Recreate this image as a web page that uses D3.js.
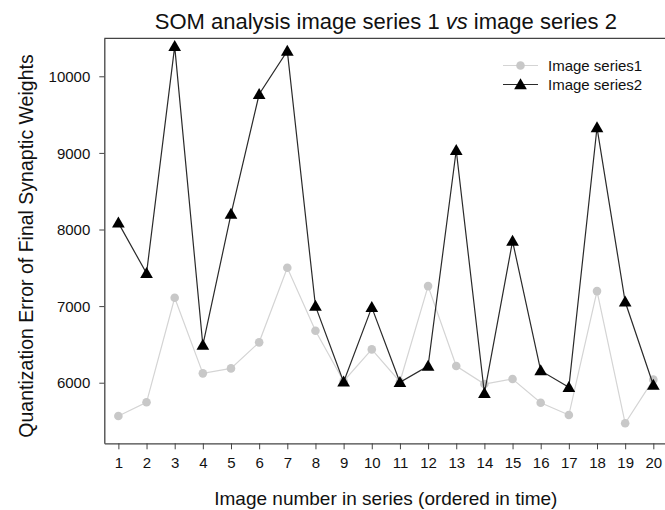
<!DOCTYPE html>
<html>
<head>
<meta charset="utf-8">
<script src="https://cdn.jsdelivr.net/npm/d3@7"></script>
<style>
  body { margin: 0; background: #fff; }
  text { font-family: "Liberation Sans", Arial, sans-serif; fill: #111; }
</style>
</head>
<body>
<div class="chart"></div>
<script>
const imageNumbers = d3.range(1, 21);
const series1 = [5566, 5744, 7109, 6122, 6187, 6527, 7500, 6679, 6020, 6435,
                 6013, 7261, 6218, 5983, 6048, 5739, 5578, 7196, 5470, 6040];
const series2 = [8087, 7427, 10391, 6490, 8200, 9765, 10330, 7000, 6010, 6983,
                 6005, 6218, 9035, 5862, 7848, 6157, 5940, 9331, 7057, 5970];
const yTicks = [6000, 7000, 8000, 9000, 10000];
const legendNames = ["Image series1", "Image series2"];

const width = 665, height = 510;
const margin = {top: 38.3, right: -2.4, bottom: 66.7, left: 104.3};

const svg = d3.select(".chart")
    .append("svg")
    .attr("width", width)
    .attr("height", height);

const x = d3.scaleLinear()
    .domain([0.5, 20.5])
    .range([margin.left, width - margin.right]);
const y = d3.scaleLinear()
    .domain([5209, 10496])
    .range([height - margin.bottom, margin.top]);

const axisColor = "#444";

// top line of the frame
svg.append("line")
    .attr("x1", margin.left).attr("x2", width)
    .attr("y1", margin.top).attr("y2", margin.top)
    .attr("stroke", axisColor).attr("stroke-width", 1.3);

// x axis
const xAxis = svg.append("g")
    .attr("transform", `translate(0,${height - margin.bottom})`)
    .call(d3.axisBottom(x).tickValues(imageNumbers).tickSize(6).tickPadding(8).tickSizeOuter(0));
// y axis
const yAxis = svg.append("g")
    .attr("transform", `translate(${margin.left},0)`)
    .call(d3.axisLeft(y).tickValues(yTicks).tickFormat(d3.format("d"))
        .tickSize(5).tickPadding(9).tickSizeOuter(0));

[xAxis, yAxis].forEach(function(g) {
    g.select(".domain").attr("stroke", axisColor).attr("stroke-width", 1.3);
    g.selectAll(".tick line").attr("stroke", axisColor);
    g.selectAll(".tick text")
        .attr("font-family", "Liberation Sans, Arial, sans-serif")
        .attr("font-size", 15)
        .attr("fill", "#111");
});
yAxis.selectAll(".tick text").attr("dy", "0.35em");

// titles
svg.append("text")
    .attr("x", (margin.left + width - margin.right) / 2)
    .attr("y", 28.5)
    .attr("text-anchor", "middle")
    .attr("font-size", 22)
    .html('SOM analysis image series 1 <tspan font-style="italic">vs</tspan> image series 2');

svg.append("text")
    .attr("x", (margin.left + width - margin.right) / 2)
    .attr("y", 505)
    .attr("text-anchor", "middle")
    .attr("font-size", 19)
    .text("Image number in series (ordered in time)");

svg.append("text")
    .attr("transform", "translate(33,246) rotate(-90)")
    .attr("text-anchor", "middle")
    .attr("font-size", 19.5)
    .text("Quantization Error of Final Synaptic Weights");

const line = d3.line()
    .x((d, i) => x(imageNumbers[i]))
    .y(d => y(d));

const tri = d3.symbol().type(d3.symbolTriangle).size(70);

// series 1
svg.append("path")
    .datum(series1)
    .attr("fill", "none")
    .attr("stroke", "#d4d4d4")
    .attr("stroke-width", 1.2)
    .attr("d", line);
svg.selectAll(".dot1")
    .data(series1)
    .join("circle")
    .attr("class", "dot1")
    .attr("cx", (d, i) => x(imageNumbers[i]))
    .attr("cy", d => y(d))
    .attr("r", 4.3)
    .attr("fill", "#c8c8c8");

// series 2
svg.append("path")
    .datum(series2)
    .attr("fill", "none")
    .attr("stroke", "#2a2a2a")
    .attr("stroke-width", 1.2)
    .attr("d", line);
svg.selectAll(".dot2")
    .data(series2)
    .join("path")
    .attr("class", "dot2")
    .attr("d", tri)
    .attr("transform", (d, i) => `translate(${x(imageNumbers[i])},${y(d) + 1})`)
    .attr("fill", "#000");

// legend
const legend = svg.append("g");
const legendRows = legend.selectAll("g")
    .data(legendNames)
    .join("g")
    .attr("transform", (d, i) => `translate(503,${65.5 + i * 19})`);
legendRows.append("line")
    .attr("x1", 0).attr("x2", 35)
    .attr("stroke", (d, i) => i === 0 ? "#d4d4d4" : "#2a2a2a")
    .attr("stroke-width", 1.2);
legendRows.filter((d, i) => i === 0).append("circle")
    .attr("cx", 17.5).attr("r", 4.3).attr("fill", "#c8c8c8");
legendRows.filter((d, i) => i === 1).append("path")
    .attr("d", tri).attr("transform", "translate(17.5,1)").attr("fill", "#000");
legendRows.append("text")
    .attr("x", 45)
    .attr("dy", "0.35em")
    .attr("font-size", 15)
    .text(d => d);
</script>
</body>
</html>
